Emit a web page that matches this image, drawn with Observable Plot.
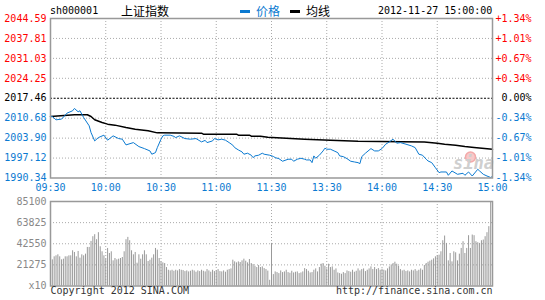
<!DOCTYPE html>
<html><head><meta charset="utf-8">
<script src="https://cdn.jsdelivr.net/npm/d3@7"></script>
<script src="https://cdn.jsdelivr.net/npm/@observablehq/plot@0.6"></script>
<style>
html,body{margin:0;padding:0;background:#fff;}
#root{position:relative;width:545px;height:300px;overflow:hidden;font-family:"DejaVu Sans Mono",monospace;font-size:10px;}
.abs{position:absolute;white-space:nowrap;line-height:12px;}
.cjk{font-family:"Noto Sans CJK SC",sans-serif;font-size:12px;line-height:14px;}
#root svg{position:absolute;left:0;}
</style></head><body><div id="root"></div>
<script>
// ---- data ----
const symbol = "sh000001";
const indexName = "上证指数";
const legendNames = ["价格", "均线"];
const timestamp = "2012-11-27 15:00:00";
const prevClose = 2017.46;
const priceTicks = [2044.59, 2037.81, 2031.03, 2024.25, 2017.46, 2010.68, 2003.90, 1997.12, 1990.34];
const priceTickLabels = ["2044.59", "2037.81", "2031.03", "2024.25", "2017.46", "2010.68", "2003.90", "1997.12", "1990.34"];
const pctTickLabels = ["+1.34%", "+1.01%", "+0.67%", "+0.34%", "0.00%", "-0.34%", "-0.67%", "-1.01%", "-1.34%"];
const timeTickMinutes = [0, 30, 60, 90, 120, 150, 180, 210, 240];
const timeTickLabels = ["09:30", "10:00", "10:30", "11:00", "11:30", "13:30", "14:00", "14:30", "15:00"];
const volTicks = [85100, 63825, 42550, 21275, 0];
const volTickLabels = ["85100", "63825", "42550", "21275", "x10"];
const copyright = "Copyright 2012 SINA.COM";
const siteUrl = "http://finance.sina.com.cn";

// price line (minute index from 09:30, price)
const priceMinutes = [0,1,3,6,9,12,13,15,16,18,21,22,24,26,29,31,34,37,39,41,45,48,51,54,55,57,58,60,61,62,65,67,68,70,73,76,79,82,84,85,88,89,91,93,95,97,99,100,102,104,105,107,109,110,111,113,115,116,119,121,122,124,126,129,131,132,134,136,138,139,141,142,143,144,146,148,149,150,152,154,156,157,159,161,163,165,167,168,169,171,174,176,178,180,182,184,186,188,190,193,196,198,200,202,204,205,207,209,211,212,215,216,218,221,224,225,227,229,232,233,235,237,239,240];
const priceValues = [2011.32,2011.26,2010.13,2010.37,2012.42,2013.20,2013.99,2012.86,2013.20,2010.91,2008.08,2005.80,2002.96,2004.09,2004.91,2003.20,2004.67,2003.75,2003.54,2001.60,2002.38,2001.02,2000.34,1999.55,1998.43,1998.98,2000.68,2003.54,2004.67,2004.91,2004.91,2004.50,2004.09,2004.67,2003.75,2003.54,2003.75,2002.62,2003.14,2002.38,2002.96,2003.75,2003.31,2003.54,2003.20,2002.38,2001.50,2000.68,1999.89,1999.21,1998.43,1998.77,1998.09,1997.27,1997.85,1998.09,1998.77,1998.43,1998.09,1997.68,1997.27,1996.93,1996.04,1996.72,1996.72,1996.04,1996.72,1997.06,1996.72,1996.48,1996.48,1995.56,1997.85,1997.06,1998.09,1999.55,2000.47,2000.13,2000.13,1999.55,1998.97,1997.85,1997.61,1996.93,1996.04,1995.80,1995.56,1995.22,1997.61,1998.77,2000.34,1999.55,1999.55,2000.34,2001.84,2002.62,2003.54,2002.18,2002.38,2001.84,2001.26,2000.68,1998.43,1998.09,1996.72,1996.14,1995.56,1993.85,1992.15,1992.39,1992.39,1991.26,1992.73,1991.60,1991.94,1991.26,1992.39,1991.02,1993.31,1992.73,1991.60,1991.02,1990.51,1990.90];

// average line
const avgMinutes = [0,13,20,22,24,28,31,35,41,46,53,58,82,83,101,102,108,109,114,118,128,138,152,167,203,210,214,220,225,230,240];
const avgValues = [2011.26,2011.84,2011.84,2011.26,2010.13,2009.21,2008.66,2008.32,2007.50,2006.96,2006.38,2005.69,2005.59,2005.25,2005.25,2004.91,2004.91,2004.57,2004.57,2004.23,2003.89,2003.54,2003.20,2002.86,2002.62,2002.18,2001.84,2001.50,2001.02,2000.68,2000.13];

// per-minute volume (241 bars)
const volumes = [69200,26340,29380,30390,31400,29380,26340,27000,29380,29380,30390,30390,35460,33770,29380,34780,28030,31400,30390,32080,38840,38840,44910,49640,51670,46600,53690,39510,34450,30390,27000,37820,32760,34450,25330,27690,26340,27000,27690,28700,34450,46600,48970,45590,35460,31400,33770,22960,31400,27000,31400,35460,31400,24650,26000,28030,31400,37820,
36130,27690,24310,23300,22630,18570,
15870,15200,15870,14860,15870,15200,16550,15870,15530,14520,15200,14180,14860,15870,15200,13850,15200,14520,15870,14860,14180,16550,15200,13850,15870,14520,15200,16550,14520,14180,15200,13850,15870,16550,17220,
26000,24310,23300,24310,23640,25330,27020,24990,23300,26680,22630,21610,19920,18570,20600,18570,19250,17560,16550,15000,5740,
42890,
11480,14180,13510,12490,15200,13510,14180,15870,13510,12830,14860,13170,13850,14180,12490,13170,14180,17560,16550,14860,13170,13510,15870,17220,14180,18570,21950,22630,19920,
17220,21950,18570,19250,15870,17220,13170,12490,11820,13510,12490,15200,14520,13850,15870,13850,14860,17220,15200,16550,17220,14520,15870,17220,19250,16550,18570,16550,17560,15870,16890,15870,15200,17220,19250,21270,22630,23980,21950,19920,16550,15200,15870,14520,15200,14180,15870,15200,16550,14860,15870,17220,15870,20600,22630,23980,24990,26000,27350,29380,
30400,31070,34450,45590,50320,42890,25330,32760,24310,34450,33430,25330,32080,37820,44580,32760,37820,50660,37820,51330,50660,44580,43560,42890,45590,46270,49640,53690,59770,85100,10800];

// ---- styles ----
const BLUE = "#0b7ad1", RED = "#ff0000", GRID = "#aaa", FRAME = "#999", BAR = "#999";
const levelColor = v => Math.abs(v - prevClose) < 0.005 ? "#000" : (v > prevClose ? RED : BLUE);

const priceTable = priceMinutes.map((m, i) => ({m, p: priceValues[i]}));
const avgTable = avgMinutes.map((m, i) => ({m, p: avgValues[i]}));
const volTable = volumes.map((v, i) => ({m: i, v}));
const dotted = {stroke: GRID, strokeDasharray: "1,2", strokeWidth: 1};
const baseStyle = {fontFamily: "'DejaVu Sans Mono', monospace", fontSize: "10px", background: "transparent", overflow: "visible"};

const root = document.getElementById("root");

const pricePlot = Plot.plot({
  width: 545, height: 200,
  marginTop: 18, marginBottom: 22.5, marginLeft: 50, marginRight: 53,
  x: {domain: [0, 240], axis: null},
  y: {domain: [priceTicks[priceTicks.length - 1], priceTicks[0]], axis: null},
  color: {type: "identity"},
  style: baseStyle,
  marks: [
    Plot.ruleY(priceTicks.filter(d => d !== prevClose).slice(1, -1), dotted),
    Plot.ruleX(timeTickMinutes.slice(1, -1), dotted),
    Plot.ruleY([prevClose], {stroke: "#000", strokeDasharray: "2,1.5", strokeWidth: 1}),
    Plot.dot([0], {frameAnchor: "bottom-right", dx: -22, dy: -21, r: 5, fill: "#f7c9c9", stroke: "#f3a9a9"}),
    Plot.text(["sina"], {frameAnchor: "bottom-right", dx: -19, dy: -9, fontSize: 17, fontWeight: "bold", fontStyle: "italic", fill: "#cfcfcf", textAnchor: "middle"}),
    Plot.line(avgTable, {x: "m", y: "p", stroke: "#000", strokeWidth: 1.5}),
    Plot.line(priceTable, {x: "m", y: "p", stroke: BLUE, strokeWidth: 1}),
    Plot.frame({stroke: FRAME, strokeWidth: 1.5}),
    Plot.text(priceTicks, {frameAnchor: "left", y: d => d, text: (d, i) => priceTickLabels[i], textAnchor: "end", dx: -4, fill: d => levelColor(d)}),
    Plot.text(priceTicks, {frameAnchor: "right", y: d => d, text: (d, i) => pctTickLabels[i], textAnchor: "end", dx: 39, fill: d => levelColor(d)}),
    Plot.text(timeTickMinutes, {x: d => d, frameAnchor: "bottom", text: (d, i) => timeTickLabels[i], dy: 12.5, fill: BLUE, textAnchor: "middle"})
  ]
});
pricePlot.style.top = "0px";
root.appendChild(pricePlot);

const volPlot = Plot.plot({
  width: 545, height: 110,
  marginTop: 11, marginBottom: 14.5, marginLeft: 50, marginRight: 53,
  x: {domain: [0, 240], axis: null},
  y: {domain: [0, volTicks[0]], axis: null},
  style: baseStyle,
  marks: [
    Plot.ruleY(volTicks.slice(1, -1), dotted),
    Plot.ruleX(timeTickMinutes.slice(1, -1), dotted),
    Plot.ruleX(volTable, {x: "m", y1: 0, y2: "v", stroke: BAR, strokeWidth: 1}),
    Plot.frame({stroke: FRAME, strokeWidth: 1.5}),
    Plot.text(volTicks, {frameAnchor: "left", y: d => d, text: (d, i) => volTickLabels[i], textAnchor: "end", dx: -4, fill: "#888"}),
    Plot.text([copyright], {frameAnchor: "bottom-left", dy: 8, textAnchor: "start", fill: "#333"}),
    Plot.text([siteUrl], {frameAnchor: "bottom-right", dy: 8, textAnchor: "end", fill: "#333"})
  ]
});
volPlot.style.top = "190px";
root.appendChild(volPlot);

// header
function addText(txt, left, top, color, cls) {
  const d = document.createElement("div");
  d.className = "abs" + (cls ? " " + cls : "");
  d.textContent = txt;
  d.style.left = left + "px"; d.style.top = top + "px"; d.style.color = color;
  root.appendChild(d);
}
function addSwatch(left, color) {
  const d = document.createElement("div");
  d.style.cssText = `position:absolute;left:${left}px;top:10px;width:10px;height:3px;background:${color};`;
  root.appendChild(d);
}
addText(symbol, 50, 5, "#000");
addText(indexName, 121, 4, "#000", "cjk");
addSwatch(240, BLUE);
addText(legendNames[0], 256, 4, BLUE, "cjk");
addSwatch(290, "#000");
addText(legendNames[1], 306, 4, "#000", "cjk");
addText(timestamp, 378, 5, "#000");
</script></body></html>
